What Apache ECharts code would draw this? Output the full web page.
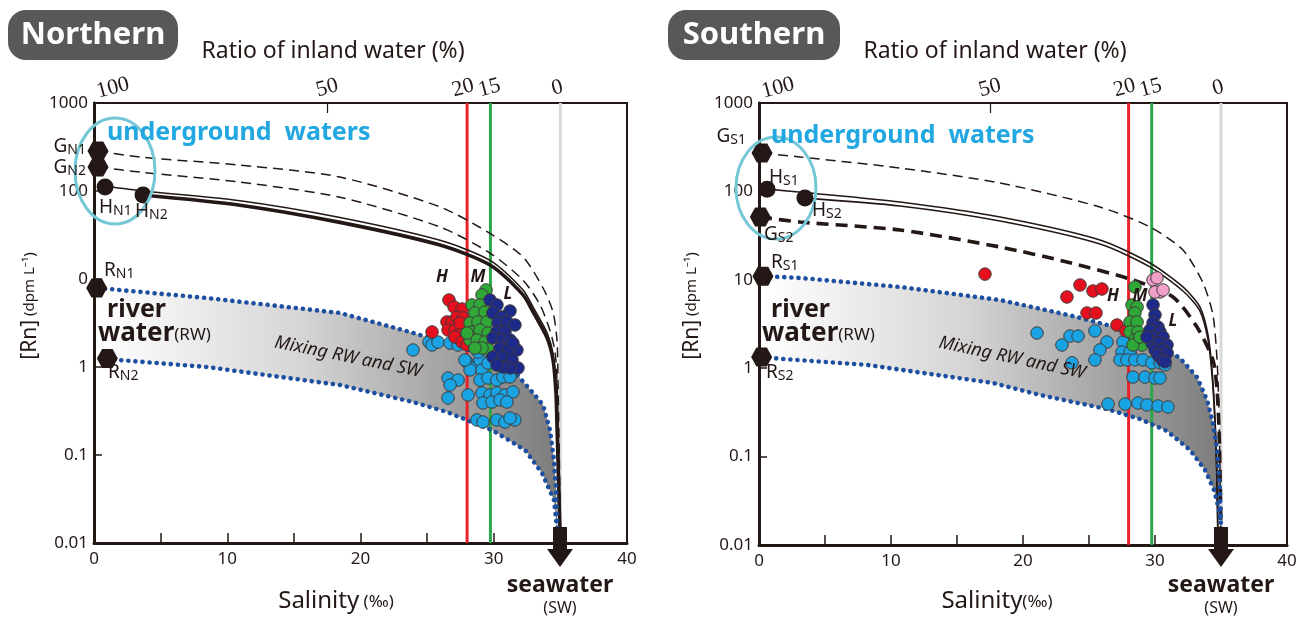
<!DOCTYPE html>
<html><head><meta charset="utf-8">
<script src="https://cdn.jsdelivr.net/npm/echarts@6/dist/echarts.min.js"></script>
<style>html,body{margin:0;padding:0;background:#fff}#c{width:1303px;height:621px}</style>
</head><body><div id="c"></div>
<script>
// ---------- data ----------
const ratioTickPos = [0, 17.5, 28, 29.75, 35];          // salinity positions of ratio ticks
const ratioTickLabels = ['100', '50', '20', '15', '0'];  // ratio of inland water (%)
const refLines = [28, 29.75, 35];                        // 20 %, 15 %, 0 % inland water
const yTickLabelsN = ['0.01', '0.1', '1', '0', '100', '1000'];
const yTickLabelsS = ['0.01', '0.1', '1', '10', '100', '1000'];

// Northern mixing lines [salinity, Rn]
const gN1 = [[0.3,285],[3.45,243],[10.96,197],[18.46,144],[25.97,66],[29.72,33],[32.2,17.8],[33.7,7.9],[34.45,4.2],[34.75,2.0],[34.82,0.71],[34.9,0.148],[34.97,0.031],[35,0.01]];
const gN2 = [[0.3,187],[3.45,164],[10.96,126],[18.46,85],[25.97,39],[29.72,19.7],[32.2,9.7],[33.47,5.1],[34.22,2.6],[34.6,1.48],[34.75,0.71],[34.82,0.25],[34.9,0.068],[34.97,0.018],[35,0.01]];
const hN1 = [[0.83,113],[3.68,100],[10.96,77.5],[18.46,50],[25.97,27.5],[29.72,16.3],[32.2,7.5],[32.95,4.8],[34.0,2.45],[34.45,1.4],[34.67,0.58],[34.75,0.235],[34.82,0.098],[34.9,0.034],[34.97,0.015],[35,0.01]];
const hN2 = [[3.68,90],[10.96,69],[18.46,44],[25.97,24.3],[29.72,14.4],[32.2,6.6],[32.95,4.22],[34.0,2.14],[34.45,1.2],[34.67,0.507],[34.75,0.208],[34.82,0.088],[34.9,0.031],[34.97,0.014],[35,0.01]];
const rN1 = [[0.3,7.9],[8.48,6.08],[18.46,4.11],[23.71,2.5],[27.69,1.64],[29.72,1.3],[31.44,0.925],[32.95,0.507],[33.7,0.37],[34.22,0.192],[34.52,0.088],[34.67,0.04],[34.75,0.018],[34.8,0.012]];
const rN2 = [[0.98,1.23],[8.48,1.0],[18.46,0.624],[23.94,0.4],[26.49,0.308],[29.87,0.192],[32.35,0.114],[33.62,0.0624],[34.52,0.0308],[34.8,0.012]];

// Southern mixing lines
const gS1 = [[0.23,272],[3.11,245],[10.68,184],[18.26,124.5],[25.83,66.6],[29.62,39.6],[32.12,21.7],[33.64,9.2],[34.39,4.0],[34.7,1.24],[34.85,0.311],[34.92,0.07],[35,0.01]];
const hS1 = [[0.61,106],[3.86,96],[10.68,75.9],[18.26,51.3],[25.83,28.2],[29.62,15.5],[32.12,8.3],[33.41,4.92],[34.02,2.37],[34.32,0.955],[34.55,0.26],[34.7,0.054],[34.77,0.01]];
const hS2 = [[3.48,84],[10.68,68.4],[18.26,46.2],[25.83,25.4],[29.62,14.0],[32.12,7.47],[33.41,4.43],[34.02,2.08],[34.32,0.837],[34.55,0.228],[34.7,0.048],[34.77,0.01]];
const gS2 = [[0.08,51.3],[3.11,45.0],[10.68,36.6],[18.26,23.5],[23.33,15.9],[28.33,9.95],[31.36,6.39],[33.18,2.92],[34.39,1.24],[34.7,0.566],[34.85,0.2],[34.95,0.042],[35,0.01]];
const rS1 = [[0.3,11.0],[3.11,10.5],[10.68,8.3],[18.26,5.9],[23.79,3.89],[26.36,3.08],[29.62,2.2],[31.89,1.30],[33.18,0.794],[33.94,0.436],[34.39,0.24],[34.7,0.119],[34.92,0.042],[35,0.0168]];
const rS2 = [[0.23,1.34],[1.82,1.27],[8.18,1.09],[17.73,0.68],[21.29,0.498],[26.36,0.345],[28.86,0.266],[30.91,0.195],[32.65,0.119],[33.79,0.0705],[34.47,0.0419],[34.85,0.0249],[35,0.0177]];

// end members
const endN_hex = [[0.3,285],[0.3,187],[0.2,7.9],[1.0,1.25]];
const endN_circ = [[0.83,111],[3.68,90]];
const endS_hex = [[0.23,272],[0.1,51.3],[0.3,11],[0.2,1.34]];
const endS_circ = [[0.61,106],[3.48,84]];

// Northern samples
const nRed = [[26.64,5.77],[27.02,4.81],[27.62,4.56],[26.49,3.25],[26.87,3.25],[27.24,3.70],[27.69,3.61],[26.57,2.63],[27.09,2.63],[27.62,2.63],[27.09,2.19],[27.62,1.92],[25.37,2.50],[27.99,1.78],[27.47,3.16]];
const nGreen = [[29.42,7.5],[29.12,6.58],[28.37,5.07],[28.97,5.07],[28.59,4.11],[29.34,4.22],[28.22,3.16],[28.82,3.25],[29.49,3.25],[28.37,2.50],[28.97,2.63],[29.57,2.43],[28.22,2.03],[28.74,2.03],[29.34,1.92],[29.57,1.60],[29.12,1.64],[28.59,1.64],[27.99,2.43]];
const nNavy = [[29.72,5.77],[30.24,5.07],[31.22,4.33],[29.94,4.11],[30.62,3.70],[30.32,3.16],[30.99,3.25],[31.59,3.0],[30.24,2.50],[30.84,2.50],[29.94,2.14],[30.62,2.03],[31.22,2.03],[31.74,1.56],[30.47,1.64],[31.07,1.56],[29.94,1.30],[30.69,1.27],[31.37,1.20],[31.82,0.975],[31.22,0.975],[30.69,1.0],[30.24,1.05],[31.44,1.87]];
const nBlue = [[23.94,1.56],[25.14,1.92],[25.37,1.78],[25.82,1.92],[26.72,1.87],[27.32,1.78],[27.99,1.14],[28.37,0.975],[28.22,0.925],[28.97,1.20],[29.12,0.925],[29.57,1.11],[28.97,0.71],[29.57,0.75],[30.24,0.71],[30.69,0.77],[31.22,0.77],[29.12,0.507],[29.72,0.481],[30.24,0.507],[30.84,0.481],[31.44,0.52],[29.19,0.39],[29.87,0.40],[30.47,0.422],[30.99,0.40],[26.57,0.75],[27.32,0.71],[26.72,0.624],[26.57,0.445],[28.07,0.481],[28.74,0.25],[29.19,0.237],[30.24,0.25],[30.84,0.237],[31.59,0.25],[31.22,0.263],[27.84,1.20],[28.82,1.48]];

// Southern samples
const sRed = [[17.12,11.6],[24.32,8.73],[23.33,6.39],[25.3,7.47],[25.98,7.87],[24.85,4.21],[25.53,4.21],[27.12,3.08],[27.8,2.64]];
const sGreen = [[28.48,8.29],[28.26,5.19],[28.64,4.92],[28.48,4.21],[28.11,3.33],[28.64,3.33],[28.11,2.57],[28.71,2.57],[28.48,2.08],[29.02,1.83],[28.33,1.83],[28.86,2.25]];
const sPink = [[29.85,9.95],[30.15,10.5],[30.38,7.28],[30.0,7.28],[30.61,7.67]];
const sNavy = [[29.85,5.19],[30.0,4.0],[29.85,3.25],[30.23,2.92],[29.62,2.70],[30.38,2.57],[29.85,2.25],[30.61,2.25],[29.77,1.93],[30.38,1.93],[30.91,1.83],[30.0,1.61],[30.61,1.61],[30.23,1.41],[30.91,1.49],[30.53,1.24],[30.76,1.18],[29.39,2.25]];
const sBlue = [[21.06,2.50],[22.95,1.83],[23.56,2.31],[24.17,2.31],[25.45,2.64],[26.36,1.98],[25.83,1.61],[25.45,1.24],[23.71,1.15],[27.58,1.98],[27.5,1.52],[28.11,1.52],[27.35,1.24],[27.88,1.24],[28.48,1.24],[29.09,1.24],[29.77,1.15],[30.38,1.15],[30.76,1.09],[28.64,1.93],[28.33,0.794],[29.24,0.794],[30.0,0.774],[30.38,0.774],[26.44,0.393],[27.73,0.393],[28.71,0.404],[29.39,0.384],[30.23,0.374],[30.98,0.364]];

// ---------- styling / building ----------
const INK = '#231815';
const FONT = 'Noto Sans';
const hexPath = 'path://M-10,0L-5,-8.66L5,-8.66L10,0L5,8.66L-5,8.66Z';

function line(data, xi, yi, ls, z, smooth) {
  return {type:'line', data, xAxisIndex:xi, yAxisIndex:yi, showSymbol:false, symbol:'none',
    smooth: smooth === undefined ? 0.25 : smooth, lineStyle:ls, z, silent:true, animation:false};
}
function dotted(data, xi, yi) {
  return line(data, xi, yi, {color:'#1c4fa0', width:4.6, type:[0.1, 7], cap:'round'}, 4, false);
}
function band(upper, lower, xi, yi) {
  return {type:'custom', xAxisIndex:xi, yAxisIndex:yi, data:[[20,1]], z:1, silent:true,
    renderItem:(params, api) => {
      const pts = upper.map(p => api.coord(p)).concat(lower.slice().reverse().map(p => api.coord(p)));
      return {type:'polygon', shape:{points:pts},
        style:{fill:{type:'linear', x:0, y:0, x2:1, y2:0,
          colorStops:[{offset:0,color:'#ffffff'},{offset:0.45,color:'#d4d4d4'},{offset:1,color:'#7c7c7c'}]}, stroke:null}};
    }};
}
function vlines(xi, yi) {
  const cols = ['#e8212b', '#2aa748', '#d9d9d9'];
  return refLines.map((s, i) => line([[s,0.01],[s,1000]], xi, yi, {color:cols[i], width:3}, 2, false));
}
function pts(data, color, xi, yi, size) {
  return {type:'scatter', data, xAxisIndex:xi, yAxisIndex:yi, symbolSize:size||12.5,
    itemStyle:{color, borderColor:'#3e3a39', borderWidth:1, opacity:1}, z:5, silent:true, animation:false};
}
function ends(hex, circ, xi, yi) {
  return [
    {type:'scatter', data:hex, xAxisIndex:xi, yAxisIndex:yi, symbol:hexPath, symbolSize:[21,19], itemStyle:{color:INK, opacity:1}, z:6, silent:true},
    {type:'scatter', data:circ, xAxisIndex:xi, yAxisIndex:yi, symbol:'circle', symbolSize:17, itemStyle:{color:INK, opacity:1}, z:6, silent:true}
  ];
}

function xBottom(g) {
  return {gridIndex:g, type:'value', min:0, max:40, interval:5,
    axisLine:{show:true, lineStyle:{color:INK, width:3}},
    axisTick:{inside:true, length:10, lineStyle:{color:INK, width:1.5}},
    axisLabel:{interval:0, formatter:v => (v % 10 === 0 ? String(v) : ''), color:INK, fontSize:17, fontFamily:FONT, margin:8},
    splitLine:{show:false}};
}
function xTop(g) {
  return {gridIndex:g, type:'value', position:'top', min:0, max:40,
    axisLine:{show:false},
    axisTick:{show:true, inside:true, length:10, customValues:[ratioTickPos[1]], lineStyle:{color:INK, width:1.2}},
    axisLabel:{show:false},
    splitLine:{show:false}};
}
function yLog(g, labels) {
  return {gridIndex:g, type:'log', logBase:10, min:0.01, max:1000,
    axisLine:{show:true, lineStyle:{color:INK, width:3}},
    axisTick:{inside:true, length:8, lineStyle:{color:INK, width:1.5}},
    minorTick:{show:false}, splitLine:{show:false},
    axisLabel:{formatter:v => labels[Math.round(Math.log10(v)) + 2], color:INK, fontSize:17, fontFamily:FONT, margin:6}};
}

// ---------- graphic annotations ----------
function txt(x, y, text, o, rot) {
  return {type:'text', x, y, rotation:rot || 0, z:100, silent:true,
    style:Object.assign({text, fill:INK, fontFamily:FONT, fontSize:16,
      align:'left', verticalAlign:'middle', textAlign:'left', textVerticalAlign:'middle'}, o || {})};
}
function sub(x, y, main, s, align) {
  return txt(x, y, '{a|' + main + '}{b|' + s + '}', {align:align||'left', textAlign:align||'left',
    rich:{a:{fontSize:19, fill:INK, fontFamily:FONT}, b:{fontSize:14, fill:INK, fontFamily:FONT, verticalAlign:'bottom', padding:[6,0,0,0]}}});
}
function panelGraphics(dx, name, boxX, boxW, ratioCx, salText, salCx, arrowX) {
  const g = [];
  g.push({type:'rect', shape:{x:boxX, y:10, width:boxW, height:50, r:18}, style:{fill:'#595757'}, z:90});
  g.push(txt(boxX + boxW/2, 35, name, {fill:'#ffffff', fontSize:31, fontWeight:'bold', align:'center', textAlign:'center'}));
  g.push(txt(ratioCx, 51, 'Ratio of inland water (%)', {fontSize:23, align:'center', textAlign:'center'}));
  g.push(txt(salCx, 601, '{a|Salinity}{b|' + salText + '}', {align:'center', textAlign:'center',
    rich:{a:{fontSize:24, fill:INK, fontFamily:FONT}, b:{fontSize:17, fill:INK, fontFamily:FONT, padding:[3,0,0,0]}}}));
  g.push({type:'polygon', z:95, silent:true,
    shape:{points:[[arrowX-7,527],[arrowX+7,527],[arrowX+7,549],[arrowX+13,549],[arrowX,567],[arrowX-13,549],[arrowX-7,549]]},
    style:{fill:INK}});
  g.push(txt(arrowX, 585, 'seawater', {fontSize:23, fontWeight:'bold', align:'center', textAlign:'center'}));
  g.push(txt(arrowX, 608, '(SW)', {fontSize:16, align:'center', textAlign:'center'}));
  g.push(txt(dx + 30, 306, '{a|[Rn]}{b| (dpm L⁻¹)}', {align:'center', textAlign:'center',
    rich:{a:{fontSize:21, fill:INK, fontFamily:FONT}, b:{fontSize:15, fill:INK, fontFamily:FONT}}}, Math.PI/2));
  return g;
}

const graphics = [].concat(
  panelGraphics(0, 'Northern', 8, 170, 333, ' (‰)', 336, 560),
  panelGraphics(662, 'Southern', 668, 172, 995, '(‰)', 997, 1221),
  [
    // Northern annotations
    {type:'ellipse', shape:{cx:115, cy:171, rx:40, ry:53}, style:{fill:null, stroke:'#74c7d6', lineWidth:3}, z:50, silent:true},
    txt(107, 133, 'underground  waters', {fontSize:25, fontWeight:'bold', fill:'#22a7e0'}),
    sub(86, 147, 'G', 'N1', 'right'), sub(86, 168, 'G', 'N2', 'right'),
    sub(99, 208, 'H', 'N1'), sub(135, 212, 'H', 'N2'),
    sub(104, 271, 'R', 'N1'), sub(108, 373, 'R', 'N2'),
    txt(107, 310, 'river', {fontSize:25, fontWeight:'bold'}),
    txt(98, 334, '{a|water}{b|(RW)}', {rich:{a:{fontSize:26, fontWeight:'bold', fill:INK, fontFamily:FONT}, b:{fontSize:17, fill:INK, fontFamily:FONT, padding:[3,0,0,0]}}}),
    txt(348, 357, 'Mixing RW and SW', {fontSize:18, fontStyle:'italic', align:'center', textAlign:'center'}, -0.2),
    txt(442, 277, 'H', {fontSize:17, fontStyle:'italic', fontWeight:'bold', align:'center', textAlign:'center'}),
    txt(478, 277, 'M', {fontSize:17, fontStyle:'italic', fontWeight:'bold', align:'center', textAlign:'center'}),
    txt(508, 294, 'L', {fontSize:17, fontStyle:'italic', fontWeight:'bold', align:'center', textAlign:'center'}),
    // Southern annotations
    {type:'ellipse', shape:{cx:776, cy:188, rx:40, ry:51}, style:{fill:null, stroke:'#74c7d6', lineWidth:3}, z:50, silent:true},
    txt(771, 136, 'underground  waters', {fontSize:25, fontWeight:'bold', fill:'#22a7e0'}),
    sub(746, 137, 'G', 'S1', 'right'),
    sub(769, 178, 'H', 'S1'), sub(812, 211, 'H', 'S2'),
    sub(764, 235, 'G', 'S2'),
    sub(771, 263, 'R', 'S1'), sub(766, 373, 'R', 'S2'),
    txt(771, 310, 'river', {fontSize:25, fontWeight:'bold'}),
    txt(762, 334, '{a|water}{b|(RW)}', {rich:{a:{fontSize:26, fontWeight:'bold', fill:INK, fontFamily:FONT}, b:{fontSize:17, fill:INK, fontFamily:FONT, padding:[3,0,0,0]}}}),
    txt(1012, 358, 'Mixing RW and SW', {fontSize:18, fontStyle:'italic', align:'center', textAlign:'center'}, -0.21),
    txt(1113, 296, 'H', {fontSize:17, fontStyle:'italic', fontWeight:'bold', align:'center', textAlign:'center'}),
    txt(1140, 296, 'M', {fontSize:17, fontStyle:'italic', fontWeight:'bold', align:'center', textAlign:'center'}),
    txt(1173, 321, 'L', {fontSize:17, fontStyle:'italic', fontWeight:'bold', align:'center', textAlign:'center'})
  ]
);

// ---------- series ----------
const series = [].concat(
  // Northern (x 0, y 0)
  [band(rN1, rN2, 0, 0)],
  vlines(0, 0),
  [dotted(rN1, 0, 0), dotted(rN2, 0, 0),
   line(gN1, 0, 0, {color:INK, width:1.5, type:[10,6]}, 3),
   line(gN2, 0, 0, {color:INK, width:1.5, type:[10,6]}, 3),
   line(hN1, 0, 0, {color:INK, width:1.6}, 3),
   line(hN2, 0, 0, {color:INK, width:3.6}, 3),
   pts(nBlue, '#1aa3e2', 0, 0), pts(nRed, '#e60f1e', 0, 0), pts(nGreen, '#2fa838', 0, 0), pts(nNavy, '#1d2a8a', 0, 0)],
  ends(endN_hex, endN_circ, 0, 0),
  // Southern (x 2, y 1)
  [band(rS1, rS2, 2, 1)],
  vlines(2, 1),
  [dotted(rS1, 2, 1), dotted(rS2, 2, 1),
   line(gS1, 2, 1, {color:INK, width:1.5, type:[10,6]}, 3),
   line(gS2, 2, 1, {color:INK, width:3.6, type:[12,7]}, 3),
   line(hS1, 2, 1, {color:INK, width:1.6}, 3),
   line(hS2, 2, 1, {color:INK, width:1.6}, 3),
   pts(sBlue, '#1aa3e2', 2, 1), pts(sRed, '#e60f1e', 2, 1), pts(sGreen, '#2fa838', 2, 1), pts(sNavy, '#1d2a8a', 2, 1), pts(sPink, '#f0a0c8', 2, 1)],
  ends(endS_hex, endS_circ, 2, 1)
);

const chart = echarts.init(document.getElementById('c'), null, {renderer:'canvas'});
chart.setOption({
  backgroundColor:'#ffffff',
  animation:false,
  textStyle:{fontFamily:FONT},
  grid:[
    {left:94, top:103, width:533, height:440, show:true, borderColor:INK, borderWidth:2, backgroundColor:'transparent'},
    {left:759, top:103, width:528, height:442, show:true, borderColor:INK, borderWidth:2, backgroundColor:'transparent'}
  ],
  xAxis:[xBottom(0), xTop(0), xBottom(1), xTop(1)],
  yAxis:[yLog(0, yTickLabelsN), yLog(1, yTickLabelsS)],
  series
});

// top "ratio of inland water" labels, placed through the top axes' scales
const labelShift = [19, 0, -4, -1, -3];
const topLabels = [];
[1, 3].forEach(ax => {
  ratioTickPos.forEach((p, i) => {
    const x = chart.convertToPixel({xAxisIndex:ax}, p) + labelShift[i];
    topLabels.push(txt(x, 88, ratioTickLabels[i], {fontSize:22, fontFamily:'Liberation Serif', align:'center', textAlign:'center'}, 0.26));
  });
});
chart.setOption({graphic:graphics.concat(topLabels)});
</script></body></html>
